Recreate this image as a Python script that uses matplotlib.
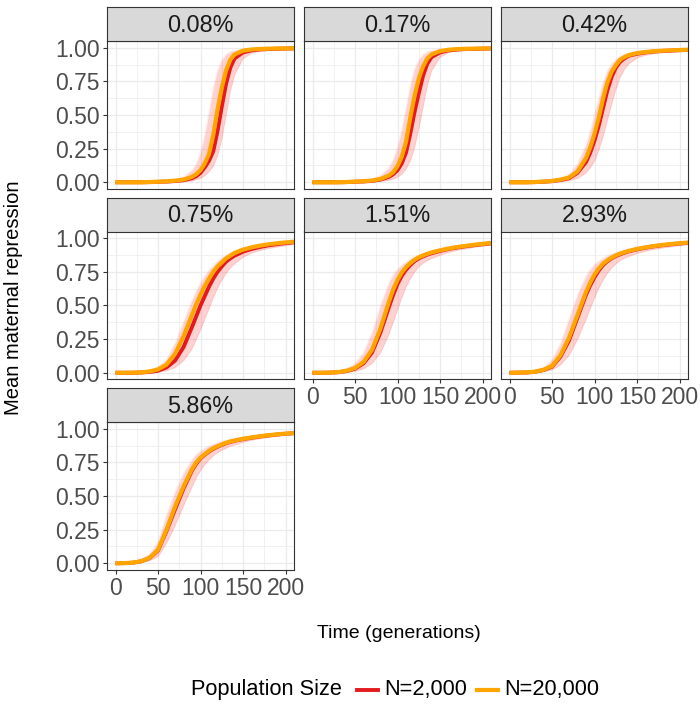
import matplotlib
matplotlib.use("Agg")
import matplotlib.pyplot as plt
from matplotlib.lines import Line2D
from matplotlib.ticker import MultipleLocator

plt.rcParams["font.family"] = ["Liberation Sans", "DejaVu Sans"]

# time grid (generations)
TIME = [0, 10, 20, 30, 40, 50, 60, 70, 80, 90, 95, 100, 105, 110, 115, 120,
        125, 130, 135, 140, 150, 160, 170, 180, 195, 210]

PANELS = ["0.08%", "0.17%", "0.42%", "0.75%", "1.51%", "2.93%", "5.86%"]

# mean curves, N=20,000 (orange) and N=2,000 (red), plus spread of replicates
orange_008 = [0, 0, 0, 0, 0.002, 0.004, 0.007, 0.012, 0.02, 0.04, 0.06, 0.09, 0.14, 0.21, 0.35, 0.54,
              0.70, 0.83, 0.91, 0.95, 0.978, 0.987, 0.991, 0.993, 0.995, 0.996]
red_008 = [0, 0, 0, 0, 0.001, 0.003, 0.005, 0.009, 0.015, 0.03, 0.045, 0.07, 0.11, 0.16, 0.23, 0.38,
           0.56, 0.73, 0.85, 0.92, 0.965, 0.98, 0.987, 0.99, 0.993, 0.995]
lo_008 = [0, 0, 0, 0, 0, 0.001, 0.002, 0.003, 0.005, 0.01, 0.02, 0.03, 0.05, 0.08, 0.12, 0.2,
          0.32, 0.5, 0.68, 0.8, 0.92, 0.96, 0.975, 0.982, 0.987, 0.99]
hi_008 = [0, 0, 0, 0, 0.003, 0.006, 0.01, 0.02, 0.04, 0.09, 0.14, 0.22, 0.35, 0.52, 0.70, 0.83,
          0.91, 0.95, 0.97, 0.98, 0.99, 0.993, 0.995, 0.996, 0.997, 0.997]

orange_017 = [0, 0, 0, 0, 0.002, 0.005, 0.008, 0.013, 0.025, 0.05, 0.075, 0.12, 0.19, 0.30, 0.48, 0.64,
              0.77, 0.86, 0.92, 0.95, 0.975, 0.985, 0.99, 0.992, 0.994, 0.995]
red_017 = [0, 0, 0, 0, 0.001, 0.004, 0.006, 0.01, 0.02, 0.04, 0.06, 0.09, 0.14, 0.22, 0.36, 0.52,
           0.66, 0.79, 0.88, 0.93, 0.965, 0.98, 0.986, 0.99, 0.992, 0.994]
lo_017 = [0, 0, 0, 0, 0, 0.001, 0.002, 0.004, 0.007, 0.015, 0.025, 0.04, 0.06, 0.1, 0.16, 0.26,
          0.4, 0.56, 0.72, 0.83, 0.93, 0.965, 0.978, 0.984, 0.988, 0.99]
hi_017 = [0, 0, 0, 0, 0.003, 0.007, 0.012, 0.025, 0.05, 0.11, 0.17, 0.26, 0.39, 0.55, 0.72, 0.84,
          0.91, 0.95, 0.97, 0.98, 0.988, 0.992, 0.994, 0.995, 0.996, 0.997]

orange_042 = [0, 0, 0, 0.002, 0.005, 0.01, 0.02, 0.035, 0.08, 0.18, 0.26, 0.36, 0.48, 0.62, 0.74, 0.82,
              0.87, 0.91, 0.93, 0.945, 0.96, 0.968, 0.974, 0.978, 0.982, 0.985]
red_042 = [0, 0, 0, 0.001, 0.004, 0.008, 0.016, 0.03, 0.07, 0.15, 0.22, 0.31, 0.42, 0.55, 0.68, 0.78,
           0.85, 0.895, 0.92, 0.94, 0.955, 0.965, 0.972, 0.976, 0.98, 0.984]
lo_042 = [0, 0, 0, 0, 0.001, 0.003, 0.006, 0.012, 0.03, 0.07, 0.11, 0.16, 0.24, 0.34, 0.46, 0.58,
          0.69, 0.78, 0.84, 0.88, 0.925, 0.945, 0.956, 0.964, 0.972, 0.977]
hi_042 = [0, 0, 0, 0.003, 0.008, 0.016, 0.03, 0.06, 0.14, 0.28, 0.38, 0.5, 0.62, 0.74, 0.83, 0.88,
          0.915, 0.935, 0.95, 0.96, 0.97, 0.977, 0.982, 0.985, 0.988, 0.99]

orange_075 = [0, 0, 0.001, 0.003, 0.01, 0.025, 0.06, 0.14, 0.27, 0.43, 0.51, 0.58, 0.645, 0.70, 0.75, 0.79,
              0.82, 0.85, 0.87, 0.89, 0.915, 0.932, 0.945, 0.955, 0.966, 0.974]
red_075 = [0, 0, 0, 0.002, 0.006, 0.015, 0.04, 0.09, 0.19, 0.34, 0.42, 0.50, 0.57, 0.64, 0.70, 0.75,
           0.79, 0.825, 0.85, 0.87, 0.90, 0.92, 0.935, 0.947, 0.96, 0.97]
lo_075 = [0, 0, 0, 0.001, 0.002, 0.006, 0.015, 0.04, 0.09, 0.18, 0.25, 0.32, 0.40, 0.48, 0.56, 0.63,
          0.69, 0.74, 0.78, 0.81, 0.86, 0.89, 0.91, 0.925, 0.94, 0.955]
hi_075 = [0, 0, 0.002, 0.006, 0.018, 0.045, 0.1, 0.22, 0.38, 0.54, 0.61, 0.67, 0.72, 0.765, 0.80, 0.83,
          0.855, 0.875, 0.893, 0.908, 0.93, 0.945, 0.955, 0.963, 0.972, 0.978]

orange_151 = [0, 0, 0.001, 0.005, 0.015, 0.035, 0.08, 0.17, 0.33, 0.53, 0.62, 0.69, 0.745, 0.785, 0.815, 0.84,
              0.858, 0.872, 0.884, 0.894, 0.91, 0.923, 0.934, 0.943, 0.955, 0.965]
red_151 = [0, 0, 0.001, 0.004, 0.012, 0.03, 0.07, 0.15, 0.30, 0.49, 0.58, 0.66, 0.72, 0.765, 0.80, 0.83,
           0.85, 0.865, 0.878, 0.888, 0.905, 0.92, 0.931, 0.94, 0.952, 0.962]
lo_151 = [0, 0, 0, 0.002, 0.005, 0.012, 0.03, 0.07, 0.15, 0.29, 0.38, 0.47, 0.56, 0.64, 0.7, 0.75,
          0.79, 0.815, 0.835, 0.85, 0.875, 0.895, 0.91, 0.922, 0.937, 0.95]
hi_151 = [0, 0.001, 0.003, 0.01, 0.03, 0.07, 0.15, 0.3, 0.5, 0.67, 0.73, 0.77, 0.80, 0.825, 0.845, 0.862,
          0.876, 0.888, 0.898, 0.907, 0.922, 0.935, 0.945, 0.953, 0.963, 0.972]

orange_293 = [0, 0.001, 0.003, 0.008, 0.022, 0.05, 0.13, 0.26, 0.43, 0.60, 0.67, 0.73, 0.775, 0.81, 0.835, 0.855,
              0.872, 0.885, 0.896, 0.905, 0.92, 0.932, 0.942, 0.95, 0.96, 0.968]
red_293 = [0, 0.001, 0.002, 0.007, 0.02, 0.045, 0.12, 0.24, 0.41, 0.58, 0.65, 0.71, 0.76, 0.80, 0.828, 0.85,
           0.867, 0.88, 0.892, 0.902, 0.917, 0.93, 0.94, 0.948, 0.958, 0.966]
lo_293 = [0, 0, 0.001, 0.003, 0.01, 0.022, 0.06, 0.13, 0.25, 0.40, 0.48, 0.56, 0.63, 0.69, 0.74, 0.78,
          0.81, 0.835, 0.852, 0.866, 0.888, 0.905, 0.918, 0.928, 0.942, 0.952]
hi_293 = [0, 0.002, 0.006, 0.016, 0.04, 0.1, 0.22, 0.4, 0.58, 0.72, 0.77, 0.805, 0.83, 0.852, 0.87, 0.884,
          0.896, 0.906, 0.914, 0.921, 0.934, 0.944, 0.952, 0.959, 0.967, 0.974]

orange_586 = [0, 0.001, 0.004, 0.015, 0.04, 0.1, 0.25, 0.42, 0.57, 0.70, 0.75, 0.785, 0.81, 0.835, 0.855, 0.87,
              0.883, 0.895, 0.905, 0.912, 0.925, 0.935, 0.944, 0.952, 0.961, 0.968]
red_586 = [0, 0.001, 0.004, 0.014, 0.038, 0.095, 0.24, 0.40, 0.555, 0.69, 0.74, 0.78, 0.806, 0.83, 0.85, 0.866,
           0.88, 0.892, 0.902, 0.91, 0.923, 0.933, 0.942, 0.95, 0.96, 0.967]
lo_586 = [0, 0, 0.002, 0.007, 0.02, 0.05, 0.15, 0.28, 0.43, 0.57, 0.64, 0.69, 0.735, 0.77, 0.8, 0.822,
          0.84, 0.856, 0.87, 0.88, 0.9, 0.915, 0.927, 0.937, 0.949, 0.958]
hi_586 = [0, 0.002, 0.008, 0.025, 0.07, 0.16, 0.36, 0.53, 0.67, 0.77, 0.81, 0.835, 0.855, 0.872, 0.886, 0.898,
          0.908, 0.916, 0.923, 0.929, 0.94, 0.948, 0.955, 0.961, 0.968, 0.974]

ORANGE = [orange_008, orange_017, orange_042, orange_075, orange_151, orange_293, orange_586]
RED = [red_008, red_017, red_042, red_075, red_151, red_293, red_586]
LO = [lo_008, lo_017, lo_042, lo_075, lo_151, lo_293, lo_586]
HI = [hi_008, hi_017, hi_042, hi_075, hi_151, hi_293, hi_586]

C_RED = "#E41A1C"
C_ORANGE = "#FFA500"

W, H = 700, 709
fig = plt.figure(figsize=(W / 100, H / 100), dpi=100)

col_left = [107, 304, 501]
panel_w = 187
panel_h = 148
strip_h = 34
row_top = [41, 231.5, 422]

for i, lab in enumerate(PANELS):
    r, c = divmod(i, 3)
    x0 = col_left[c]
    top = row_top[r]
    ax = fig.add_axes([x0 / W, 1 - (top + panel_h) / H, panel_w / W, panel_h / H])

    # cloud of single replicates
    ax.fill_between(TIME, LO[i], HI[i], color="#FF2020", alpha=0.2, lw=0)
    ax.plot(TIME, LO[i], color=C_RED, alpha=0.07, lw=0.8)
    ax.plot(TIME, HI[i], color=C_RED, alpha=0.07, lw=0.8)
    # means
    ax.plot(TIME, RED[i], color=C_RED, lw=2.8, solid_capstyle="butt")
    ax.plot(TIME, ORANGE[i], color=C_ORANGE, lw=3.0, solid_capstyle="butt")

    ax.set_xlim(-10, 210)
    ax.set_ylim(-0.05, 1.05)
    ax.xaxis.set_major_locator(MultipleLocator(50))
    ax.xaxis.set_minor_locator(MultipleLocator(25))
    ax.yaxis.set_major_locator(MultipleLocator(0.25))
    ax.yaxis.set_minor_locator(MultipleLocator(0.125))
    ax.grid(True, which="major", color="#EBEBEB", lw=0.9)
    ax.grid(True, which="minor", color="#EBEBEB", lw=0.5)
    ax.set_axisbelow(True)
    for sp in ax.spines.values():
        sp.set_color("#333333")
        sp.set_linewidth(0.8)

    ax.tick_params(which="minor", length=0)
    ax.tick_params(which="major", length=3, width=0.8, color="#333333",
                   labelsize=16.5, labelcolor="#4D4D4D", pad=2)

    if c == 0:
        ax.set_yticklabels([f"{v:.2f}" for v in ax.get_yticks()])
    else:
        ax.tick_params(axis="y", left=False, labelleft=False)

    if i + 3 < len(PANELS):
        ax.tick_params(axis="x", bottom=False, labelbottom=False)

    # facet strip
    sax = fig.add_axes([x0 / W, 1 - top / H, panel_w / W, strip_h / H])
    sax.set_facecolor("#D9D9D9")
    sax.set_xticks([])
    sax.set_yticks([])
    for sp in sax.spines.values():
        sp.set_color("#333333")
        sp.set_linewidth(0.8)
    sax.text(0.5, 0.47, lab, ha="center", va="center", fontsize=16.8,
             color="#1A1A1A", transform=sax.transAxes)

fig.text(14 / W, 1 - 298 / H, "Mean maternal repression", rotation=90,
         ha="center", va="center", fontsize=14.5)
fig.text(399 / W, 1 - 633 / H, "Time (generations)", ha="center",
         va="center", fontsize=14)

# legend
ly = 1 - 690 / H
fig.text(191 / W, ly, "Population Size", ha="left", va="center", fontsize=15.7)
fig.add_artist(Line2D([357 / W, 378 / W], [ly, ly], color=C_RED, lw=2.8))
fig.text(384 / W, ly, "N=2,000", ha="left", va="center", fontsize=15.7)
fig.add_artist(Line2D([477 / W, 498 / W], [ly, ly], color=C_ORANGE, lw=3.0))
fig.text(504 / W, ly, "N=20,000", ha="left", va="center", fontsize=15.7)

fig.savefig("out.png", dpi=100)
